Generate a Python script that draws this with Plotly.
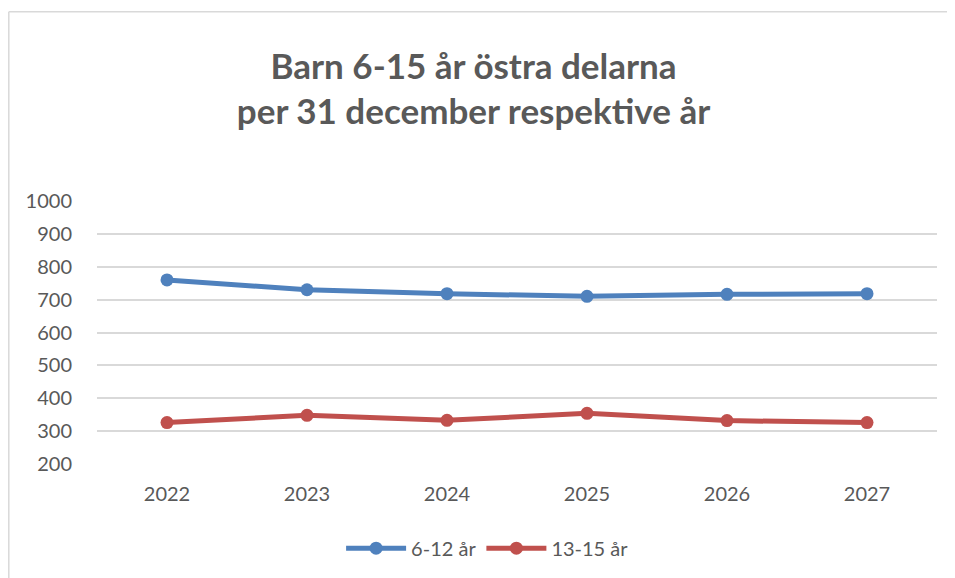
import plotly.graph_objects as go

years = ["2022", "2023", "2024", "2025", "2026", "2027"]
barn_6_12 = [760, 730, 718, 710, 716, 718]
barn_13_15 = [326, 348, 333, 354, 332, 326]
series_names = ["6-12 år", "13-15 år"]
y_ticks = [200, 300, 400, 500, 600, 700, 800, 900, 1000]

FONT = "Lato"
GRAY = "#595959"
BORDER = "#D9D9D9"

fig = go.Figure()
fig.add_trace(go.Scatter(x=years, y=barn_6_12, name=series_names[0], mode="lines+markers",
                         line=dict(color="#4F81BD", width=5), marker=dict(size=13, color="#4F81BD")))
fig.add_trace(go.Scatter(x=years, y=barn_13_15, name=series_names[1], mode="lines+markers",
                         line=dict(color="#C0504D", width=5), marker=dict(size=13, color="#C0504D")))

fig.update_layout(
    width=947, height=570,
    margin=dict(l=89, r=18, t=193, b=113),
    paper_bgcolor="white", plot_bgcolor="white",
    font=dict(family=FONT, color=GRAY, size=20),
    title=dict(text="<b>Barn 6-15 år östra delarna<br>per 31 december respektive år</b>",
               x=0.4916, xanchor="center", y=0.876, yanchor="middle",
               font=dict(family=FONT, size=35, color=GRAY)),
    xaxis=dict(type="category", range=[-0.5, 5.5], showgrid=False, showline=False,
               ticks="", tickfont=dict(size=20, color=GRAY), ticklabelstandoff=16),
    yaxis=dict(range=[200, 1000], tickvals=y_ticks, showgrid=True, gridcolor="#D9D9D9",
               gridwidth=1.5, zeroline=False, showline=False, ticks="",
               tickfont=dict(size=20, color=GRAY), ticklabelstandoff=24),
    legend=dict(orientation="h", x=0.465, xanchor="center", y=-0.315, yanchor="middle",
                font=dict(size=20, color=GRAY), itemwidth=60, traceorder="normal"),
    showlegend=True,
    shapes=[
        dict(type="line", xref="paper", yref="paper", x0=-0.105, x1=-0.105, y0=-1.0, y1=1.72,
             line=dict(color=BORDER, width=1.5), layer="below"),
        dict(type="line", xref="paper", yref="paper", x0=-0.105, x1=1.5, y0=1.72, y1=1.72,
             line=dict(color=BORDER, width=1.5), layer="below"),
    ],
)

fig.write_html("out.html")
